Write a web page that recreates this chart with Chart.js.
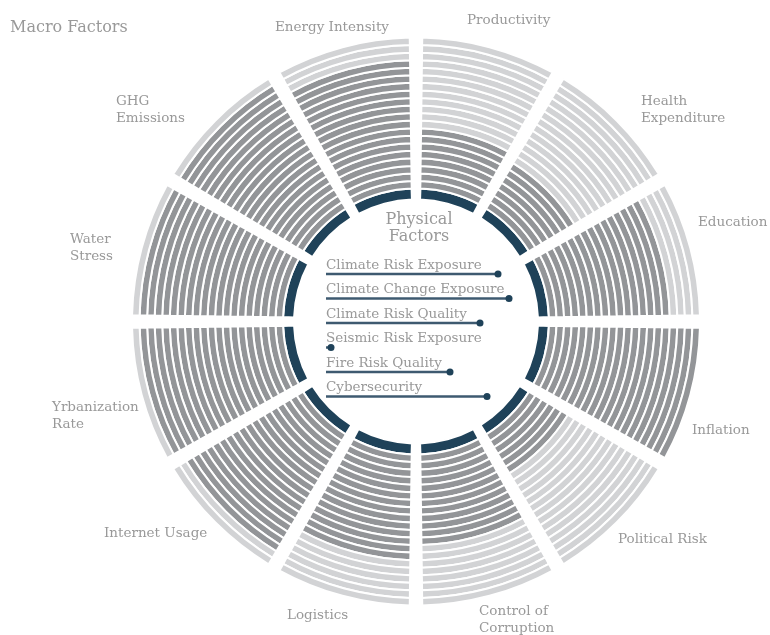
<!DOCTYPE html>
<html><head><meta charset="utf-8">
<script src="https://cdn.jsdelivr.net/npm/chart.js@4"></script>
<style>
html,body{margin:0;padding:0;background:#fff;}
#wrap{position:relative;width:770px;height:635px;overflow:hidden;}
#ring{position:absolute;left:0;top:0;}
#lolli{position:absolute;left:316px;top:240px;}
.lbl{position:absolute;font-family:'DejaVu Serif',serif;color:#999;font-size:13.5px;line-height:17px;white-space:nowrap;}
.ttl{font-size:16px;}
</style></head><body>
<div id="wrap">
<canvas id="ring" width="770" height="635"></canvas>
<canvas id="lolli" width="220" height="180"></canvas>
</div>
<script>
// ---- data ----
const sectors = ['Productivity','Health Expenditure','Education','Inflation','Political Risk','Control of Corruption','Logistics','Internet Usage','Yrbanization Rate','Water Stress','GHG Emissions','Energy Intensity'];
const scores = [8, 7, 16, 20, 6, 12, 14, 18, 19, 19, 19, 17];
const maxScore = 20;
const physicalFactors = ['Climate Risk Exposure','Climate Change Exposure','Climate Risk Quality','Seismic Risk Exposure','Fire Risk Quality','Cybersecurity'];
const physicalScores = [86, 91.5, 77, 2.5, 62, 80.5];

// ---- layout / style ----
const DARK = '#939598', LIGHT = '#d2d3d5', NAVY = '#1f4259';
const LINE = '#3e5a70', DOT = '#1f4259';
const GAP = 1.5, SECT = 30 - GAP;
const RING_W = 7.55, NAVY_W = 11, SPACING = 20;
const CX = 416, CY = 321.5;
// label layout: [text lines, left, top]
const labelLayout = [
  [['Productivity'], 467, 10.5],
  [['Health','Expenditure'], 641, 91.5],
  [['Education'], 698, 212.5],
  [['Inflation'], 692, 420.5],
  [['Political Risk'], 618, 529.5],
  [['Control of','Corruption'], 479, 601.5],
  [['Logistics'], 287, 605.5],
  [['Internet Usage'], 104, 523.5],
  [['Yrbanization','Rate'], 52, 397.5],
  [['Water','Stress'], 70, 229.5],
  [['GHG','Emissions'], 116, 91.5],
  [['Energy Intensity'], 275, 17.5]
];

const segData = [];
sectors.forEach(() => { segData.push(GAP, SECT); });
const datasets = [];
for (let k = maxScore; k >= 1; k--) {
  datasets.push({
    data: segData,
    weight: RING_W,
    spacing: SPACING,
    backgroundColor: segData.map((v, j) => j % 2 === 0 ? 'rgba(0,0,0,0)' : (scores[(j - 1) / 2] >= k ? DARK : LIGHT)),
    borderWidth: segData.map((v, j) => j % 2 === 0 ? 0 : 2),
    borderColor: '#ffffff'
  });
}
datasets.push({
  data: segData,
  weight: NAVY_W,
  spacing: SPACING,
  backgroundColor: segData.map((v, j) => j % 2 === 0 ? 'rgba(0,0,0,0)' : NAVY),
  borderWidth: segData.map((v, j) => j % 2 === 0 ? 0 : 2),
  borderColor: '#ffffff'
});

new Chart(document.getElementById('ring'), {
  type: 'doughnut',
  data: { labels: segData.map((v, j) => j % 2 ? sectors[(j - 1) / 2] : ''), datasets },
  options: {
    responsive: false, animation: false, events: [], devicePixelRatio: 1,
    rotation: -GAP / 2,
    spacing: SPACING,
    radius: 284 - SPACING / 2,
    cutout: ((122 - SPACING / 2) / (284 - SPACING / 2) * 100) + '%',
    layout: { padding: { left: CX - 300, right: 770 - CX - 300, top: CY - 300, bottom: 635 - CY - 300 } },
    plugins: { legend: { display: false }, tooltip: { enabled: false } }
  }
});

const lol = new Chart(document.getElementById('lolli'), {
  type: 'bar',
  data: {
    labels: physicalFactors,
    datasets: [
      { type: 'bar', data: physicalScores, backgroundColor: LINE, barThickness: 2, order: 2 },
      { type: 'line', data: physicalScores, showLine: false, pointRadius: 3.5, pointBackgroundColor: DOT, pointBorderWidth: 0, order: 1 }
    ]
  },
  options: {
    indexAxis: 'y', responsive: false, animation: false, events: [], devicePixelRatio: 1,
    layout: { padding: { left: 10, right: 10, top: 21.75, bottom: 11.25 } },
    scales: { x: { display: false, min: 0, max: 100 }, y: { display: false } },
    plugins: { legend: { display: false }, tooltip: { enabled: false } }
  }
});

const wrap = document.getElementById('wrap');
function addLabel(lines, left, top, cls) {
  const d = document.createElement('div');
  d.className = 'lbl' + (cls ? ' ' + cls : '');
  d.style.left = left + 'px'; d.style.top = top + 'px';
  d.innerHTML = lines.join('<br>');
  wrap.appendChild(d);
  return d;
}
labelLayout.forEach(l => addLabel(l[0], l[1], l[2]));
const mt = addLabel(['Macro Factors'], 10, 18, 'ttl');
const pt = addLabel(['Physical', 'Factors'], 0, 210, 'ttl');
pt.style.width = '838px'; pt.style.left = '0px'; pt.style.textAlign = 'center';
pt.style.lineHeight = '17px';
physicalFactors.forEach((name, i) => {
  const y = 240 + lol.scales.y.getPixelForValue(i);
  addLabel([name], 326, y - 5.5 - 12.7);
});
</script>
</body></html>
